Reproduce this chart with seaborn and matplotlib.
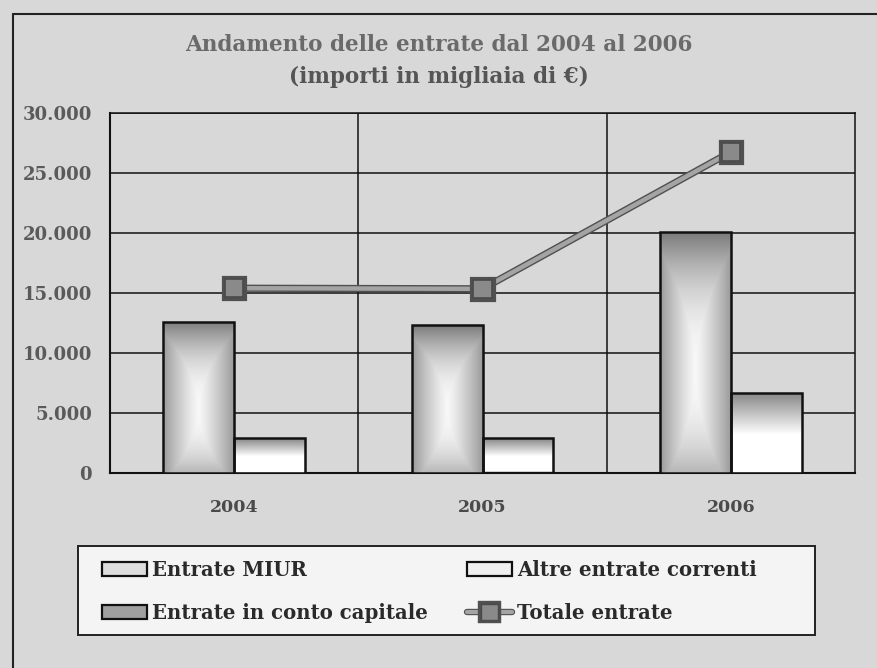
import numpy as np
import pandas as pd
import matplotlib
matplotlib.use("Agg")
import matplotlib.pyplot as plt
import matplotlib.patheffects as pe
from matplotlib.patches import Patch, Rectangle
from matplotlib.lines import Line2D
import seaborn as sns

anni = ["2004", "2005", "2006"]
entrate_miur = [12600, 12300, 20050]
altre_correnti = [2900, 2900, 6700]
conto_capitale = [0, 50, 0]
totale = [15400, 15350, 26750]
yticks = [0, 5000, 10000, 15000, 20000, 25000, 30000]
ytick_labels = ["0", "5.000", "10.000", "15.000", "20.000", "25.000", "30.000"]

sns.set_theme(style="white")
plt.rcParams["font.family"] = ["DejaVu Serif"]

bg = "#d8d8d8"
MIUR_C = "#c4c4c4"
ALTRE_C = "#e4e4e4"
CC_C = "#a0a0a0"
fig = plt.figure(figsize=(8.77, 6.68), dpi=100, facecolor=bg)
ax = fig.add_axes([110/877, 1-473/668, 745/877, 360/668])
ax.set_facecolor(bg)

df = pd.DataFrame({
    "anno": anni * 2,
    "valore": entrate_miur + altre_correnti,
    "serie": ["Entrate MIUR"] * 3 + ["Altre entrate correnti"] * 3,
})
sns.barplot(data=df, x="anno", y="valore", hue="serie", ax=ax, width=0.57,
            palette=[MIUR_C, ALTRE_C], edgecolor="#111111", linewidth=1.8,
            errorbar=None, legend=False, zorder=3)
bar_patches = list(ax.patches)

# gradients clipped to the bars
nx, ny = 64, 128
gx = np.linspace(0, 1, nx)[None, :]
gy = np.linspace(0, 1, ny)[:, None]
miur_grad = 0.97 - 0.36 * np.maximum(np.abs(2 * gx - 1) ** 1.2, np.abs(2 * gy - 1.15) ** 2.2)
altre_grad = np.clip(0.52 + 0.55 * gy / 0.6, 0, 1.0) * np.ones_like(gx)
for p in bar_patches:
    x0, y0 = p.get_x(), p.get_y()
    w, h = p.get_width(), p.get_height()
    fc = matplotlib.colors.to_hex(p.get_facecolor())
    grad = miur_grad if fc == MIUR_C else altre_grad
    im = ax.imshow(grad, cmap="gray", vmin=0, vmax=1, extent=(x0, x0 + w, y0, y0 + h),
                   origin="upper", aspect="auto", zorder=3.2, interpolation="bilinear")
    im.set_clip_path(p)
    p.set_zorder(3.4)
    p.set_facecolor("none")

# conto capitale (tiny values) drawn at the base of the Altre bars
sns.barplot(x=anni, y=conto_capitale, ax=ax, width=0.285, color=CC_C,
            edgecolor="#111111", linewidth=1.0, errorbar=None, zorder=4)
for p in ax.patches[-3:]:
    p.set_x(p.get_x() + 0.1425)

sns.lineplot(x=[0, 1, 2], y=totale, ax=ax, color="#a4a4a4", linewidth=3.2,
             marker="s", markersize=13, markerfacecolor="#8a8a8a",
             markeredgecolor="#4a4a4a", markeredgewidth=1.2, zorder=6,
             path_effects=[pe.Stroke(linewidth=5.2, foreground="#505050"), pe.Normal()])

ax.set_xlim(-0.5, 2.5)
ax.set_ylim(0, 30000)
ax.set_aspect("auto")
ax.set_yticks(yticks)
ax.set_yticklabels(ytick_labels)
ax.set_xlabel("")
ax.set_ylabel("")
ax.grid(axis="y", color="#111111", linewidth=1.1, zorder=0)
for xv in [0.5, 1.5]:
    ax.axvline(xv, color="#111111", linewidth=1.1, zorder=0)
for s in ["top", "right"]:
    ax.spines[s].set_color("#111111")
    ax.spines[s].set_linewidth(1.1)
for s in ["left", "bottom"]:
    ax.spines[s].set_color("#111111")
    ax.spines[s].set_linewidth(1.5)
ax.tick_params(axis="y", length=6, width=1.2, color="#111111", direction="out", pad=7,
               labelsize=13, labelcolor="#5a5a5a")
ax.tick_params(axis="x", length=0, pad=19, labelsize=12.5, labelcolor="#4a4a4a")
for lbl in ax.get_yticklabels() + ax.get_xticklabels():
    lbl.set_fontweight("bold")

fig.text(0.5, 1-45/668, "Andamento delle entrate dal 2004 al 2006", ha="center", va="center",
         fontsize=15.5, fontweight="bold", color="#6a6a6a")
fig.text(0.5, 1-77/668, "(importi in migliaia di €)", ha="center", va="center",
         fontsize=15.5, fontweight="bold", color="#555555")

# outer frame lines
fig.add_artist(Line2D([13/877, 13/877], [0, 1 - 14/668], transform=fig.transFigure,
                      color="#222222", linewidth=1.5))
fig.add_artist(Line2D([13/877, 1], [1 - 14/668, 1 - 14/668], transform=fig.transFigure,
                      color="#222222", linewidth=1.5))

# legend box
fig.patches.append(Rectangle((78/877, 1-635/668), 737/877, 89/668, transform=fig.transFigure,
                             facecolor="#f4f4f4", edgecolor="#222222", linewidth=1.4, zorder=0))
entries = [
    (Patch(facecolor="#dedede", edgecolor="#111111", linewidth=1.6, label="Entrate MIUR"), 102, 570),
    (Patch(facecolor=CC_C, edgecolor="#111111", linewidth=1.6, label="Entrate in conto capitale"), 102, 613),
    (Patch(facecolor="#f0f0f0", edgecolor="#111111", linewidth=1.6, label="Altre entrate correnti"), 467, 570),
    (Line2D([0], [0], color="#a4a4a4", linewidth=3, marker="s", markersize=12,
            markerfacecolor="#8a8a8a", markeredgecolor="#4a4a4a", label="Totale entrate",
            path_effects=[pe.Stroke(linewidth=4.6, foreground="#505050"), pe.Normal()]), 467, 613),
]
for h, xpx, ypx in entries:
    leg = fig.legend(handles=[h], loc="center left", bbox_to_anchor=(xpx/877, 1 - ypx/668),
                     frameon=False, fontsize=14.2, handlelength=2.3, handleheight=0.7,
                     handletextpad=0.25, borderpad=0, borderaxespad=0)
    for t in leg.get_texts():
        t.set_fontweight("bold")
        t.set_color("#2a2a2a")

fig.savefig("out.png", dpi=100, facecolor=bg)
